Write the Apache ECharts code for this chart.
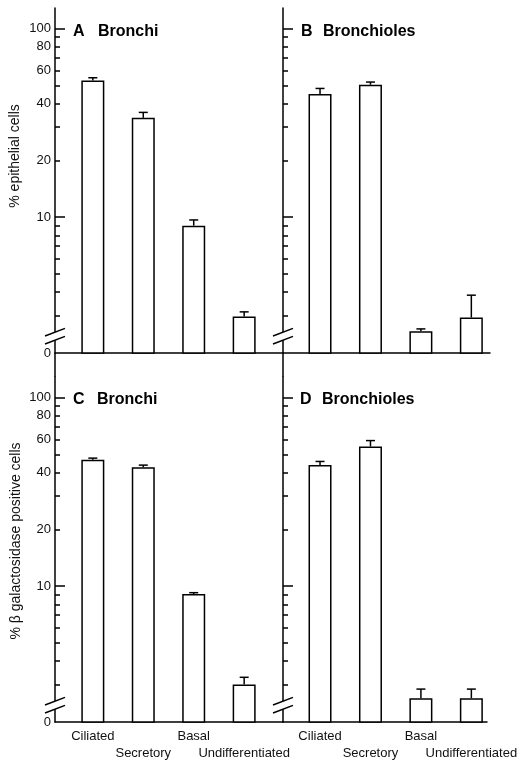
<!DOCTYPE html>
<html>
<head>
<meta charset="utf-8">
<script src="https://cdn.jsdelivr.net/npm/echarts@6/dist/echarts.min.js"></script>
<style>
html,body{margin:0;padding:0;background:#fff;}
#chart{width:525px;height:760px;}
</style>
</head>
<body>
<div id="chart"></div>
<script>
// ---- data ----
const categories = ['Ciliated', 'Secretory', 'Basal', 'Undifferentiated'];
const panelLetters = ['A', 'B', 'C', 'D'];
const panelNames = ['Bronchi', 'Bronchioles', 'Bronchi', 'Bronchioles'];
const yLabelTicks = [0, 10, 20, 40, 60, 80, 100];
const yMajorTicks = [10, 100];
const yMinorTicks = [3, 4, 5, 6, 7, 8, 9, 20, 30, 40, 50, 60, 70, 80, 90];
const yNameTop = '% epithelial cells';
const yNameBottom = '% \u03b2 galactosidase positive cells';

const meanA = [53.0, 33.6, 9.0, 2.97];
const seA   = [1.8, 2.3, 0.65, 0.17];
const meanB = [44.9, 50.3, 2.48, 2.93];
const seB   = [3.2, 1.7, 0.07, 0.92];
const meanC = [46.7, 42.7, 9.07, 3.0];
const seC   = [1.0, 1.1, 0.15, 0.28];
const meanD = [43.8, 55.0, 2.54, 2.54];
const seD   = [2.0, 4.1, 0.30, 0.30];

// ---- layout ----
const FONT = '"Liberation Sans", Arial, Helvetica, sans-serif';
const Y_MIN = 1.9, Y_MAX = 128.5;
const panels = [
  {mean: meanA, se: seA, left: 55,  top: 8,   width: 228, xMin: 0.25, xMax: 4.77, labels: true,  xLabels: false, titleX: 73,  wordX: 98,  titleY: 32},
  {mean: meanB, se: seB, left: 283, top: 8,   width: 207, xMin: 0.266, xMax: 4.37, labels: false, xLabels: false, titleX: 301, wordX: 323, titleY: 32},
  {mean: meanC, se: seC, left: 55,  top: 377, width: 228, xMin: 0.25, xMax: 4.77, labels: true,  xLabels: true,  titleX: 73,  wordX: 97,  titleY: 400},
  {mean: meanD, se: seD, left: 283, top: 377, width: 204, xMin: 0.266, xMax: 4.31, labels: false, xLabels: true,  titleX: 300, wordX: 322, titleY: 400}
];
const H = 345;

const grid = [], xAxis = [], yAxis = [], series = [], graphic = [];
const lineStyle = {color: '#000', width: 1.5};
const catLabel = v => categories[Math.round(v) - 1];

panels.forEach((p, i) => {
  grid.push({left: p.left, top: p.top, width: p.width, height: H, containLabel: false});
  // main x axis: baseline + first-row labels (Ciliated, Basal)
  xAxis.push({
    type: 'value', gridIndex: i, min: p.xMin, max: p.xMax, position: 'bottom',
    axisLine: {show: true, lineStyle: lineStyle},
    axisTick: {show: false}, splitLine: {show: false},
    axisLabel: {
      show: p.xLabels, customValues: [1, 3], margin: 8, hideOverlap: false,
      fontFamily: FONT, fontSize: 13, color: '#111', formatter: catLabel
    }
  });
  // second-row labels (Secretory, Undifferentiated)
  xAxis.push({
    type: 'value', gridIndex: i, min: p.xMin, max: p.xMax, position: 'bottom',
    axisLine: {show: false},
    axisTick: {show: false}, splitLine: {show: false},
    axisLabel: {
      show: p.xLabels, customValues: [2, 4], margin: 24.5, hideOverlap: false,
      fontFamily: FONT, fontSize: 13, color: '#111', formatter: catLabel
    }
  });
  yAxis.push({
    type: 'log', gridIndex: i, min: Y_MIN, max: Y_MAX, position: 'left',
    axisLine: {show: true, lineStyle: lineStyle},
    axisTick: {show: true, inside: true, length: 10, customValues: yMajorTicks, lineStyle: lineStyle},
    splitLine: {show: false},
    axisLabel: {
      show: p.labels, customValues: yLabelTicks.map(v => v === 0 ? Y_MIN : v), margin: 4,
      fontFamily: FONT, fontSize: 13, color: '#111',
      formatter: v => (Math.abs(v - Y_MIN) < 1e-6 ? '0' : String(Math.round(v)))
    }
  });
  yAxis.push({
    type: 'log', gridIndex: i, min: Y_MIN, max: Y_MAX, position: 'left',
    axisLine: {show: false},
    axisTick: {show: true, inside: true, length: 5, customValues: yMinorTicks, lineStyle: lineStyle},
    splitLine: {show: false},
    axisLabel: {show: false}
  });
  series.push({
    type: 'bar', xAxisIndex: 2 * i, yAxisIndex: 2 * i, barWidth: 23, clip: true,
    itemStyle: {color: '#fff', borderColor: '#000', borderWidth: 1.5},
    data: p.mean.map((m, k) => [k + 1, m]),
    z: 2
  });
  series.push({
    type: 'custom', xAxisIndex: 2 * i, yAxisIndex: 2 * i, z: 3,
    encode: {x: 0, y: 1},
    data: p.mean.map((m, k) => [k + 1, m, m + p.se[k]]),
    renderItem: (params, api) => {
      const x = api.value(0);
      const a = api.coord([x, api.value(1)]);
      const b = api.coord([x, api.value(2)]);
      const st = {stroke: '#000', lineWidth: 1.5};
      return {type: 'group', children: [
        {type: 'line', shape: {x1: a[0], y1: a[1], x2: b[0], y2: b[1]}, style: st},
        {type: 'line', shape: {x1: b[0] - 4.5, y1: b[1], x2: b[0] + 4.5, y2: b[1]}, style: st}
      ]};
    }
  });
  // panel title
  graphic.push({type: 'text', x: p.titleX, y: p.titleY, style: {text: panelLetters[i], font: 'bold 16px ' + FONT, fill: '#000', verticalAlign: 'middle'}});
  graphic.push({type: 'text', x: p.wordX, y: p.titleY, style: {text: panelNames[i], font: 'bold 16px ' + FONT, fill: '#000', verticalAlign: 'middle'}});
  // axis break marks
  const bx = p.left, by = p.top + H - 17;
  graphic.push({type: 'polygon', z: 10, shape: {points: [[bx - 10, by + 0], [bx + 10, by - 7.6], [bx + 10, by + 0.4], [bx - 10, by + 8]]}, style: {fill: '#fff'}});
  graphic.push({type: 'line', z: 11, shape: {x1: bx - 10, y1: by + 0, x2: bx + 10, y2: by - 7.6}, style: {stroke: '#000', lineWidth: 1.5}});
  graphic.push({type: 'line', z: 11, shape: {x1: bx - 10, y1: by + 8, x2: bx + 10, y2: by + 0.4}, style: {stroke: '#000', lineWidth: 1.5}});
});

// connect the vertical axes between upper and lower panels
[55, 283].forEach(x => {
  graphic.push({type: 'line', shape: {x1: x, y1: 8 + H, x2: x, y2: 377}, style: {stroke: '#000', lineWidth: 1.5}});
});
// y-axis names
graphic.push({type: 'text', x: 15, y: 156, rotation: Math.PI / 2, style: {text: yNameTop, font: '14px ' + FONT, fill: '#111', align: 'center', verticalAlign: 'middle'}});
graphic.push({type: 'text', x: 16, y: 541, rotation: Math.PI / 2, style: {text: yNameBottom, font: '14px ' + FONT, fill: '#111', align: 'center', verticalAlign: 'middle'}});

const chart = echarts.init(document.getElementById('chart'), null, {renderer: 'canvas'});
chart.setOption({
  animation: false,
  backgroundColor: '#fff',
  grid, xAxis, yAxis, series, graphic
});
</script>
</body>
</html>
